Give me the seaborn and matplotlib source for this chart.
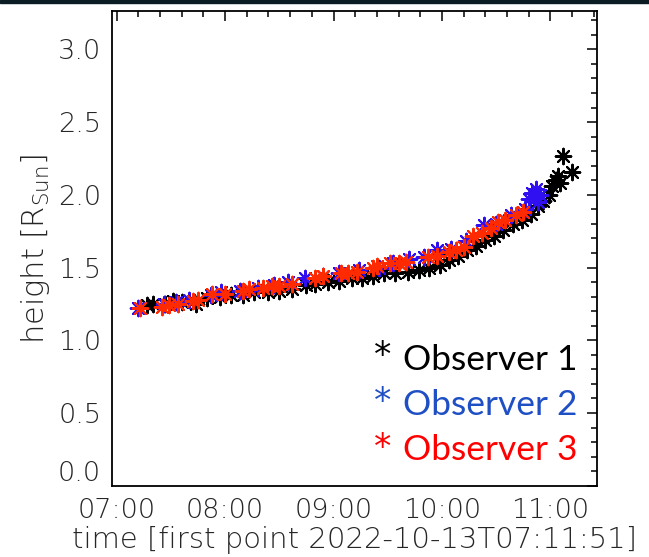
import pandas as pd
import numpy as np
import matplotlib
matplotlib.use('Agg')
import matplotlib.pyplot as plt
import matplotlib.dates as mdates
import seaborn as sns

# --- data (time HH:MM, height in R_sun) ---
obs1_time = ['07:17', '07:20', '07:27', '07:31', '07:36', '07:44', '07:50', '07:57',
             '08:03', '08:10', '08:16', '08:24', '08:30', '08:37', '08:45', '08:50',
             '08:57', '09:03', '09:10', '09:16', '09:22', '09:28', '09:34', '09:41',
             '09:47', '09:53', '09:59', '10:04', '10:09', '10:14', '10:19', '10:24',
             '10:29', '10:34', '10:39', '10:44', '10:49', '10:53', '10:56', '10:59',
             '11:01', '11:03', '11:04', '11:05', '11:07', '11:12']
obs1_height = [1.24, 1.25, 1.25, 1.27, 1.26, 1.25, 1.29, 1.30,
               1.31, 1.31, 1.33, 1.33, 1.34, 1.35, 1.38, 1.39,
               1.40, 1.41, 1.43, 1.43, 1.44, 1.46, 1.46, 1.47,
               1.48, 1.50, 1.52, 1.55, 1.58, 1.62, 1.65, 1.69,
               1.72, 1.76, 1.80, 1.83, 1.87, 1.92, 1.96, 2.00,
               2.06, 2.10, 2.13, 2.08, 2.27, 2.16]

obs2_time = ['07:12', '07:26', '07:33', '07:40', '07:52', '07:58', '08:08', '08:18',
             '08:27', '08:35', '08:44', '08:54', '09:03', '09:14', '09:25', '09:33',
             '09:42', '09:50', '09:57', '10:05', '10:13', '10:23', '10:30', '10:38',
             '10:46', '10:48', '10:50', '10:52', '10:54', '10:53']
obs2_height = [1.22, 1.25, 1.26, 1.28, 1.31, 1.33, 1.34, 1.36,
               1.38, 1.40, 1.43, 1.44, 1.46, 1.48, 1.50, 1.53,
               1.56, 1.57, 1.62, 1.63, 1.68, 1.79, 1.80, 1.86,
               1.90, 1.97, 2.01, 2.04, 2.00, 1.95]

obs3_time = ['07:13', '07:25', '07:29', '07:34', '07:42', '07:45', '07:53', '08:00',
             '08:10', '08:13', '08:21', '08:26', '08:30', '08:37', '08:50', '08:54',
             '09:04', '09:08', '09:13', '09:22', '09:24', '09:31', '09:36', '09:40',
             '09:52', '09:57', '10:04', '10:08', '10:12', '10:17', '10:22', '10:27',
             '10:31', '10:35', '10:41', '10:45']
obs3_height = [1.22, 1.23, 1.24, 1.25, 1.27, 1.28, 1.32, 1.32,
               1.34, 1.35, 1.36, 1.37, 1.37, 1.39, 1.43, 1.44,
               1.46, 1.46, 1.47, 1.50, 1.51, 1.53, 1.53, 1.54,
               1.57, 1.58, 1.61, 1.62, 1.64, 1.72, 1.74, 1.77,
               1.81, 1.83, 1.86, 1.88]

observers = ['Observer 1', 'Observer 2', 'Observer 3']
marker_colors = ['black', '#3010f0', '#ff2a00']
label_colors = ['black', '#1f4fc4', '#ff0000']

day = '2022-10-13 '


def to_frame(times, heights):
    return pd.DataFrame({'time': pd.to_datetime([day + t for t in times]),
                         'height': heights})


frames = [to_frame(obs1_time, obs1_height),
          to_frame(obs2_time, obs2_height),
          to_frame(obs3_time, obs3_height)]

sns.set_style('white')
plt.rcParams['font.family'] = ['DejaVu Sans']
plt.rcParams['font.weight'] = 'light'
plt.rcParams['axes.labelweight'] = 'light'
plt.rcParams['mathtext.fontset'] = 'custom'
plt.rcParams['mathtext.rm'] = 'DejaVu Sans:light'
plt.rcParams['mathtext.it'] = 'DejaVu Sans:light'

fig = plt.figure(figsize=(6.49, 5.57), dpi=100)
ax = fig.add_axes([0.172, 0.128, 0.748, 0.852])

for df, c in zip(frames, marker_colors):
    sns.scatterplot(data=df, x='time', y='height', ax=ax, marker=(8, 2, 0),
                    color=c, edgecolor=c, s=125, linewidth=1.5, legend=False)

ax.set_xlim(pd.Timestamp(day + '06:57:14'), pd.Timestamp(day + '11:25:46'))
ax.set_ylim(0, 3.263)

ax.xaxis.set_major_locator(mdates.HourLocator())
ax.xaxis.set_minor_locator(mdates.MinuteLocator(byminute=[12, 24, 36, 48]))
ax.xaxis.set_major_formatter(mdates.DateFormatter('%H:%M'))
ax.set_yticks(np.arange(0, 3.01, 0.5))
ax.set_yticks(np.arange(0, 3.26, 0.1), minor=True)
ax.yaxis.set_major_formatter(matplotlib.ticker.FormatStrFormatter('%.1f'))

ax.tick_params(which='both', direction='in', top=True, right=True,
               width=1.1, color='black', labelsize=19.5)
ax.tick_params(which='major', length=7.5)
ax.tick_params(which='minor', length=4)
ax.tick_params(axis='x', pad=9)
ax.tick_params(axis='y', pad=7.5)

for s in ax.spines.values():
    s.set_linewidth(1.3)
    s.set_color('black')

ax.set_xlabel('time [first point 2022-10-13T07:11:51]', fontsize=21, labelpad=2)
ax.set_ylabel(r'height [R$_{\mathrm{Sun}}$]', fontsize=22, labelpad=4)

# lowest y label sits on the axis line
fig.canvas.draw()
ax.get_yticklabels()[0].set_verticalalignment('bottom')

# legend-like labels
baselines = [369.5, 415, 460.5]
for name, c, yb in zip(observers, label_colors, baselines):
    fig.text(374 / 649, 1 - (yb - 3) / 557, '*', color=c, fontsize=25,
             family=['DejaVu Sans'], weight='normal', ha='left', va='baseline')
    fig.text(403 / 649, 1 - yb / 557, name, color=c, fontsize=25.5,
             family=['Lato', 'DejaVu Sans'], weight='normal', ha='left', va='baseline')

# thin dark strip along the top edge of the screenshot
fig.add_artist(plt.Rectangle((0, 1 - 3 / 557), 1, 3 / 557, transform=fig.transFigure,
                             color='#0c1c24', zorder=10))

fig.savefig('out.png', dpi=100)
